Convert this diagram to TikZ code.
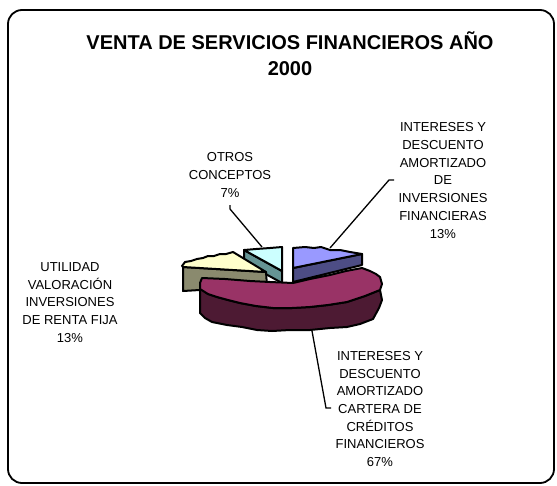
\documentclass[tikz,border=0pt]{standalone}
\usepackage{fontspec}
\setmainfont{Liberation Sans}
\definecolor{bluetop}{HTML}{9999FF}
\definecolor{blueside}{HTML}{4D4D85}
\definecolor{cyantop}{HTML}{CCFFFF}
\definecolor{cyanside}{HTML}{659494}
\definecolor{yeltop}{HTML}{FFFFCC}
\definecolor{yelside}{HTML}{8A8A6E}
\definecolor{magtop}{HTML}{993366}
\definecolor{magside}{HTML}{4D1A33}
\tikzset{
  face/.style={draw=black, line width=2pt, line join=round},
  lbl/.style={align=center, font=\fontsize{13}{17.7}\selectfont, inner sep=0pt},
  leader/.style={draw=black, line width=1.3pt},
}
\begin{document}
\begin{tikzpicture}[x=1pt,y=-1pt]
\useasboundingbox (0,0) rectangle (557,485);
% frame
\draw[line width=1.8pt, rounded corners=14pt] (8,10) rectangle (554,483);
% title
\node[align=center, inner sep=0pt, font=\fontsize{20}{26}\selectfont\bfseries] (title) at (290,54)
  {VENTA DE SERVICIOS FINANCIEROS AÑO\\2000};

% cyan slice (Otros conceptos)
\filldraw[face, fill=cyanside] (244,250) -- (282,271) -- (282,283) -- (244,262) -- cycle;
\filldraw[face, fill=cyantop] (244,250) -- (256,249) -- (270,248) -- (282,247) -- (282,271) -- cycle;
% yellow slice (Utilidad)
\filldraw[face, fill=yelside] (183,267) -- (266,272) -- (267,286) -- (183,291) -- cycle;
\filldraw[face, fill=yeltop] (182,266) -- (185,262) -- (191,261) -- (197,259) -- (203,258) -- (208,256)
  -- (214,256) -- (220,254) -- (226,254) -- (233,252) -- (266,272) -- (183,267) -- cycle;
% blue slice (Inversiones financieras)
\filldraw[face, fill=blueside] (293,268) -- (362,254) -- (362,265) -- (293,282) -- cycle;
\filldraw[face, fill=bluetop] (293,248) -- (305,247) -- (314,248) -- (321,247) -- (330,250)
  -- (340,250) -- (350,252) -- (362,254) -- (293,268) -- cycle;
% magenta slice (Cartera de creditos)
\filldraw[face, fill=magside] (200,288) -- (208,294) -- (217,297) -- (228,300) -- (240,303) -- (256,306)
  -- (273,308) -- (292,308) -- (310,307) -- (328,305) -- (347,302) -- (365,296) -- (380,290)
  -- (382,300) -- (379,308) -- (373,319) -- (360,324) -- (347,327) -- (330,328) -- (310,330)
  -- (290,330) -- (272,331) -- (257,330) -- (242,327) -- (227,325) -- (212,322) -- (205,318) -- (200,313) -- cycle;
\filldraw[face, fill=magtop] (202,278) -- (225,279) -- (250,281) -- (270,282) -- (293,283) -- (310,279)
  -- (330,275) -- (346,271) -- (362,268) -- (370,271) -- (376,274) -- (380,277) -- (382,284)
  -- (380,290) -- (365,296) -- (347,302) -- (328,305) -- (310,307) -- (292,308) -- (273,308)
  -- (256,306) -- (240,303) -- (228,300) -- (217,297) -- (208,294) -- (200,289) -- (200,283) -- cycle;

% labels
\node[lbl] (lblfin) at (443,180.5) {INTERESES Y\\DESCUENTO\\AMORTIZADO\\DE\\INVERSIONES\\FINANCIERAS\\13\%};
\node[lbl] (lblotros) at (230,175) {OTROS\\CONCEPTOS\\7\%};
\node[lbl] (lblutil) at (70,302.5) {UTILIDAD\\VALORACIÓN\\INVERSIONES\\DE RENTA FIJA\\13\%};
\node[lbl] (lblcart) at (380,409) {INTERESES Y\\DESCUENTO\\AMORTIZADO\\CARTERA DE\\CRÉDITOS\\FINANCIEROS\\67\%};

% leader lines
\coordinate (pfin) at (330,248);
\coordinate (kfin) at (389,180);
\coordinate (tfin) at (394,180);
\coordinate (potr) at (262,247);
\coordinate (kotr) at (230,209);
\coordinate (totr) at (230,205);
\coordinate (pcart) at (312,331);
\coordinate (kcart) at (326,408);
\coordinate (tcart) at (331,408);
\draw[leader] (tfin) -- (kfin) -- (pfin);
\draw[leader] (totr) -- (kotr) -- (potr);
\draw[leader] (pcart) -- (kcart) -- (tcart);
\end{tikzpicture}
\end{document}
